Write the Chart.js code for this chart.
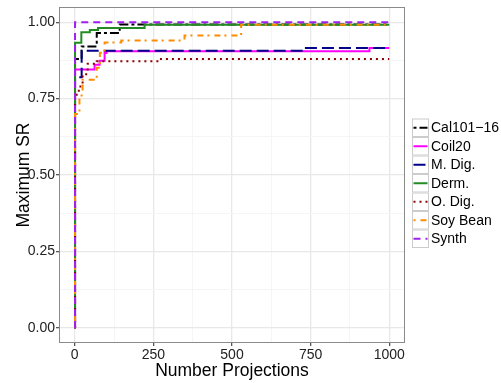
<!DOCTYPE html>
<html>
<head>
<meta charset="utf-8">
<script src="https://cdn.jsdelivr.net/npm/chart.js@4.4.1/dist/chart.umd.min.js"></script>
<style>
  html, body { margin: 0; padding: 0; background: #fff; }
</style>
</head>
<body>
<canvas id="myChart" width="501" height="383"></canvas>
<script>
// series names (legend order)
var seriesNames = ['Cal101\u221216', 'Coil20', 'M. Dig.', 'Derm.', 'O. Dig.', 'Soy Bean', 'Synth'];

// step points: x = number of projections, y = maximum SR
var calX   = [0, 1, 22, 70, 143, 1000];
var calY   = [0, 0.88, 0.921, 0.965, 0.993, 0.993];
var coilX  = [0, 1, 63, 79, 95, 101, 937, 1000];
var coilY  = [0, 0.845, 0.861, 0.874, 0.899, 0.905, 0.916, 0.916];
var mdigX  = [0, 1, 22, 735, 1000];
var mdigY  = [0, 0.82, 0.907, 0.916, 0.916];
var dermX  = [0, 1, 21, 48, 74, 222, 1000];
var dermY  = [0, 0.933, 0.967, 0.975, 0.981, 0.992, 0.992];
var odigX  = [0, 1, 13, 25, 41, 70, 270, 1000];
var odigY  = [0, 0.763, 0.79, 0.83, 0.864, 0.872, 0.88, 0.88];
var soyX   = [0, 1, 15, 25, 70, 80, 95, 148, 349, 529, 1000];
var soyY   = [0, 0.70, 0.76, 0.812, 0.851, 0.90, 0.934, 0.94, 0.957, 0.992, 0.992];
var synthX = [0, 1, 1000];
var synthY = [0, 1.0, 1.0];

// axis ticks (major + minor gridlines)
var xTicks = [0, 125, 250, 375, 500, 625, 750, 875, 1000];
var yTicks = [0, 0.125, 0.25, 0.375, 0.5, 0.625, 0.75, 0.875, 1];

var seriesX = [calX, coilX, mdigX, dermX, odigX, soyX, synthX];
var seriesY = [calY, coilY, mdigY, dermY, odigY, soyY, synthY];
var colors  = ['#000000', '#ff00ff', '#00008b', '#228b22', '#8b0000', '#ff8c00', '#a020f0'];
var dashes  = [[3, 3, 9, 3], [], [12, 5], [], [2, 4], [2, 5, 6, 4], [7, 5]];

function toPoints(xs, ys) {
  return xs.map(function (x, i) { return {x: x, y: ys[i]}; });
}

var datasets = seriesNames.map(function (name, i) {
  return {
    label: name,
    data: toPoints(seriesX[i], seriesY[i]),
    borderColor: colors[i],
    backgroundColor: colors[i],
    borderDash: dashes[i],
    borderWidth: 2,
    pointRadius: 0,
    fill: false,
    stepped: true,
    order: seriesNames.length - 1 - i
  };
});

var gridMajor = '#e8e8e8';
var gridMinor = '#f5f5f5';

// panel border + ggplot style legend
var panelPlugin = {
  id: 'panel',
  afterDraw: function (chart) {
    var c = chart.ctx, a = chart.chartArea;
    c.save();
    c.strokeStyle = '#8a8a8a';
    c.lineWidth = 1;
    c.setLineDash([]);
    c.strokeRect(a.left + 0.5, a.top + 0.5, a.width - 1, a.height - 1);

    var kx = 412, ky = 118.5, kw = 17, kh = 18.5;
    c.font = '14px "Liberation Sans", Arial, sans-serif';
    c.textBaseline = 'middle';
    c.fillStyle = '#000';
    seriesNames.forEach(function (name, i) {
      var y = ky + i * kh;
      c.fillStyle = '#fff';
      c.fillRect(kx, y, kw, kh);
      c.strokeStyle = '#cccccc';
      c.lineWidth = 1;
      c.setLineDash([]);
      c.strokeRect(kx + 0.5, y + 0.5, kw - 1, kh - 1);
      c.strokeStyle = colors[i];
      c.lineWidth = 2;
      c.setLineDash(dashes[i]);
      c.beginPath();
      c.moveTo(kx + 1.5, y + kh / 2);
      c.lineTo(kx + kw - 1.5, y + kh / 2);
      c.stroke();
      c.setLineDash([]);
      c.fillStyle = '#000';
      c.fillText(name, kx + kw + 2, y + kh / 2 + 0.5);
    });
    c.restore();
  }
};

var tickFont = {family: '"Liberation Sans", Arial, sans-serif', size: 14};
var titleFont = {family: '"Liberation Sans", Arial, sans-serif', size: 17.5};

var ctx = document.getElementById('myChart').getContext('2d');
var myChart = new Chart(ctx, {
  type: 'line',
  data: {datasets: datasets},
  plugins: [panelPlugin],
  options: {
    responsive: false,
    animation: false,
    devicePixelRatio: 1,
    layout: {padding: {top: 7, right: 96, left: 0, bottom: 0}},
    plugins: {
      legend: {display: false},
      tooltip: {enabled: false}
    },
    scales: {
      x: {
        type: 'linear',
        min: -50,
        max: 1050,
        afterBuildTicks: function (s) {
          s.ticks = xTicks.map(function (v) { return {value: v}; });
        },
        afterFit: function (s) {
          s.height = 40;
          s.paddingLeft = 0; s.paddingRight = 0;
        },
        border: {display: false},
        grid: {
          color: function (c) { return c.index % 2 === 0 ? gridMajor : gridMinor; },
          tickColor: function (c) { return c.index % 2 === 0 ? '#555' : 'rgba(0,0,0,0)'; },
          lineWidth: function (c) { return c.index % 2 === 0 ? 1.3 : 1; },
          tickLength: 3
        },
        ticks: {
          autoSkip: false,
          maxRotation: 0,
          padding: 1,
          color: '#222',
          font: tickFont,
          callback: function (v, i) { return i % 2 === 0 ? String(v) : ''; }
        },
        title: {
          display: true,
          text: 'Number Projections',
          color: '#000',
          font: titleFont,
          padding: {top: 0, bottom: 1}
        }
      },
      y: {
        min: -0.05,
        max: 1.05,
        afterBuildTicks: function (s) {
          s.ticks = yTicks.map(function (v) { return {value: v}; });
        },
        afterFit: function (s) {
          s.width = 59;
          s.paddingTop = 0; s.paddingBottom = 0;
        },
        border: {display: false},
        grid: {
          color: function (c) { return c.index % 2 === 0 ? gridMajor : gridMinor; },
          tickColor: function (c) { return c.index % 2 === 0 ? '#555' : 'rgba(0,0,0,0)'; },
          lineWidth: function (c) { return c.index % 2 === 0 ? 1.3 : 1; },
          tickLength: 3
        },
        ticks: {
          autoSkip: false,
          padding: 1,
          color: '#222',
          font: tickFont,
          callback: function (v, i) { return i % 2 === 0 ? v.toFixed(2) : ''; }
        },
        title: {
          display: true,
          text: 'Maximum SR',
          color: '#000',
          font: titleFont,
          padding: {top: 14, bottom: 0}
        }
      }
    }
  }
});
</script>
</body>
</html>
